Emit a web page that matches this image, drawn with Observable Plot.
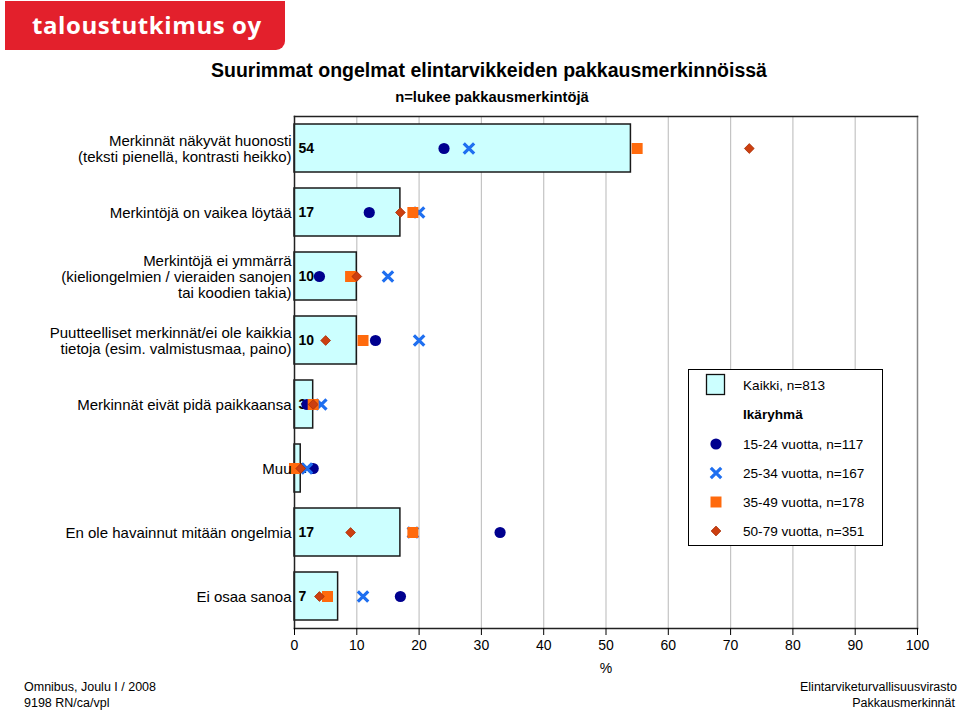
<!DOCTYPE html>
<html><head><meta charset="utf-8">
<script src="https://cdn.jsdelivr.net/npm/d3@7"></script>
<script src="https://cdn.jsdelivr.net/npm/@observablehq/plot@0.6"></script>
<style>
body{margin:0;background:#fff;font-family:"Liberation Sans",Arial,sans-serif;}
#wrap{position:relative;width:960px;height:712px;overflow:hidden;}
#wrap > svg{position:absolute;left:0;top:0;}
#wrap > svg g[aria-label^="y-axis"] text{font-size:15px;}
#wrap > svg g[aria-label^="x-axis"] text{font-size:14px;}
.abs{position:absolute;white-space:nowrap;}
#logo{left:5px;top:1px;width:280px;height:49px;background:#e3202c;border-bottom-right-radius:9px;color:#fff;font-family:"Open Sans",sans-serif;font-weight:700;font-size:24px;line-height:48px;text-indent:27px;letter-spacing:0.6px;}
#title{left:0;width:978px;top:59px;text-align:center;font-weight:bold;font-size:19.5px;color:#000;}
#subtitle{left:0;width:984px;top:89px;text-align:center;font-weight:bold;font-size:14.8px;color:#000;}
.foot{font-family:"Liberation Sans Narrow","Liberation Sans",Arial,sans-serif;font-size:12.5px;color:#000;}
#legend{left:688px;top:369px;width:193px;height:175px;border:1px solid #000;background:#fff;}
</style></head><body><div id="wrap">
<div id="logo" class="abs">taloustutkimus oy</div>
<div id="title" class="abs">Suurimmat ongelmat elintarvikkeiden pakkausmerkinnöissä</div>
<div id="subtitle" class="abs">n=lukee pakkausmerkintöjä</div>
<div class="abs foot" style="left:24px;top:680px;">Omnibus, Joulu I / 2008</div>
<div class="abs foot" style="left:24px;top:696px;">9198 RN/ca/vpl</div>
<div class="abs foot" style="right:3px;top:680px;">Elintarviketurvallisuusvirasto</div>
<div class="abs foot" style="right:5px;top:696px;">Pakkausmerkinnät</div>
</div>
<script>
const categories = [
  "Merkinnät näkyvät huonosti\n(teksti pienellä, kontrasti heikko)",
  "Merkintöjä on vaikea löytää",
  "Merkintöjä ei ymmärrä\n(kieliongelmien / vieraiden sanojen\ntai koodien takia)",
  "Puutteelliset merkinnät/ei ole kaikkia\ntietoja (esim. valmistusmaa, paino)",
  "Merkinnät eivät pidä paikkaansa",
  "Muu",
  "En ole havainnut mitään ongelmia",
  "Ei osaa sanoa"
];
const kaikki  = [54, 17, 10, 10, 3, 1, 17, 7];
const age1524 = [24, 12, 4, 13, 2, 3, 33, 17];
const age2534 = [28, 20, 15, 20, 4.3, 2, 19, 11];
const age3549 = [55, 19, 9, 11, 3, 0, 19, 5.3];
const age5079 = [73, 17, 10, 5, 3, 1, 9, 4];
const xTicks = [0, 10, 20, 30, 40, 50, 60, 70, 80, 90, 100];
const seriesLabels = ["Kaikki, n=813", "Ikäryhmä", "15-24 vuotta, n=117", "25-34 vuotta, n=167", "35-49 vuotta, n=178", "50-79 vuotta, n=351"];

const bars = categories.map((c, i) => ({cat: c, v: kaikki[i]}));
const pts = (arr) => categories.map((c, i) => ({cat: c, v: arr[i]}));

const C_CIRCLE = "#00008f", C_X = "#1f6ff0", C_SQ = "#ff6a0d", C_DIA = "#cc3f10";

const chart = Plot.plot({
  width: 960, height: 712,
  marginLeft: 294, marginRight: 43, marginTop: 116, marginBottom: 84,
  style: {fontFamily: "'Liberation Sans', Arial, sans-serif", fontSize: "14px", color: "#000", background: "transparent"},
  x: {domain: [0, 100]},
  y: {domain: categories, padding: 0},
  marks: [
    Plot.gridX(xTicks.slice(1, -1), {stroke: "#c4c4c4", strokeOpacity: 1, strokeWidth: 1.2}),
    Plot.frame({anchor: "right", stroke: "#888", strokeWidth: 1.5}),
    Plot.frame({anchor: "top", stroke: "#222", strokeWidth: 1.5}),
    Plot.barX(bars, {x: "v", y: "cat", fill: "#ccffff", stroke: "#1a1a1a", strokeWidth: 1.5, insetTop: 8, insetBottom: 8}),
    Plot.frame({anchor: "left", stroke: "#222", strokeWidth: 1.5}),
    Plot.frame({anchor: "bottom", stroke: "#222", strokeWidth: 1.5}),
    Plot.text(bars, {x: 0, y: "cat", text: d => String(d.v), dx: 4, textAnchor: "start", fontWeight: "bold", fontSize: 14, fill: "#000"}),
    Plot.dot(pts(age1524), {x: "v", y: "cat", symbol: "circle", r: 5.6, fill: C_CIRCLE}),
    Plot.dot(pts(age2534), {x: "v", y: "cat", symbol: "times", r: 4.8, stroke: C_X, strokeWidth: 3.2}),
    Plot.dot(pts(age3549), {x: "v", y: "cat", symbol: "square", r: 6.2, fill: C_SQ}),
    Plot.dot(pts(age5079), {x: "v", y: "cat", symbol: "diamond2", r: 4.4, fill: C_DIA, stroke: "#a83008", strokeWidth: 0.8}),
    Plot.axisY({tickSize: 0, tickPadding: 3, fontSize: 15, lineHeight: 1.07, label: null}),
    Plot.axisX({ticks: xTicks, tickSize: 7, tickPadding: 5, fontSize: 14, label: "%", labelAnchor: "center", labelOffset: 44, labelArrow: "none"})
  ]
});
document.getElementById("wrap").insertBefore(chart, document.getElementById("wrap").firstChild);

// legend
const lg = document.createElement("div");
lg.id = "legend"; lg.className = "abs";
const NS = "http://www.w3.org/2000/svg";
const svg = document.createElementNS(NS, "svg");
svg.setAttribute("width", 193); svg.setAttribute("height", 175);
svg.style.fontFamily = "'Liberation Sans', Arial, sans-serif";
svg.style.fontSize = "13.6px";
const rowsY = [15, 44, 74, 103, 132, 161];
const sym = [null, null,
  {type: d3.symbolCircle, size: Math.PI * 5.6 * 5.6, fill: C_CIRCLE},
  {type: d3.symbolTimes, size: Math.PI * 4.8 * 4.8, stroke: C_X},
  {type: d3.symbolSquare, size: Math.PI * 6.2 * 6.2, fill: C_SQ},
  {type: d3.symbolDiamond2, size: Math.PI * 4.4 * 4.4, fill: C_DIA}];
const rect = document.createElementNS(NS, "rect");
rect.setAttribute("x", 17.5); rect.setAttribute("y", 4.5); rect.setAttribute("width", 18); rect.setAttribute("height", 20);
rect.setAttribute("fill", "#ccffff"); rect.setAttribute("stroke", "#111"); rect.setAttribute("stroke-width", 1.3);
svg.appendChild(rect);
seriesLabels.forEach((t, i) => {
  const tx = document.createElementNS(NS, "text");
  tx.setAttribute("x", 54); tx.setAttribute("y", rowsY[i]); tx.setAttribute("dy", "0.35em");
  if (i === 1) tx.setAttribute("font-weight", "bold");
  tx.textContent = t;
  svg.appendChild(tx);
  const s = sym[i];
  if (s) {
    const p = document.createElementNS(NS, "path");
    p.setAttribute("d", d3.symbol(s.type, s.size)());
    p.setAttribute("transform", `translate(27,${rowsY[i]})`);
    if (s.fill) p.setAttribute("fill", s.fill); else p.setAttribute("fill", "none");
    if (s.stroke) { p.setAttribute("stroke", s.stroke); p.setAttribute("stroke-width", 3.2); }
    if (i === 5) { p.setAttribute("stroke", "#a83008"); p.setAttribute("stroke-width", 0.8); }
    svg.appendChild(p);
  }
});
lg.appendChild(svg);
document.getElementById("wrap").appendChild(lg);
</script>
</body></html>
